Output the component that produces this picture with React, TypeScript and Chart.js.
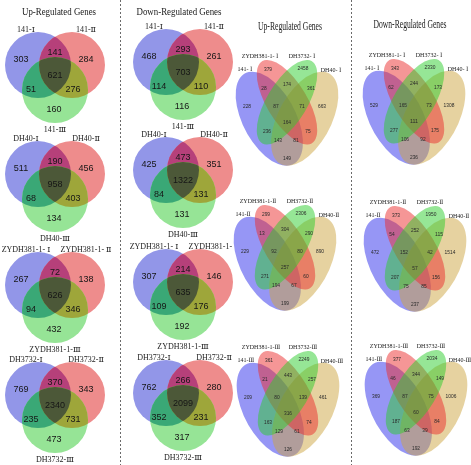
import React, { useEffect, useRef } from "react";
import { Chart, registerables } from "chart.js";

Chart.register(...registerables);

// ================= DATA =================
// Three-way Venn diagrams (left half). Region order:
// A only, B only, C only, A∩B, A∩C, B∩C, A∩B∩C
const upRegulated141 = [303, 284, 160, 141, 51, 276, 621];
const upRegulatedDH40 = [511, 456, 134, 190, 68, 403, 958];
const upRegulatedZYDH381 = [267, 138, 432, 72, 94, 346, 626];
const upRegulatedDH3732 = [769, 343, 473, 370, 235, 731, 2340];

const downRegulated141 = [468, 261, 116, 293, 114, 110, 703];
const downRegulatedDH40 = [425, 351, 131, 473, 84, 131, 1322];
const downRegulatedZYDH381 = [307, 146, 192, 214, 109, 176, 635];
const downRegulatedDH3732 = [762, 280, 317, 266, 352, 231, 2099];

const setLabels141 = ["141-Ⅰ", "141-Ⅱ", "141-Ⅲ"];
const setLabelsDH40 = ["DH40-Ⅰ", "DH40-Ⅱ", "DH40-Ⅲ"];
const setLabelsZYDH381 = ["ZYDH381-1- Ⅰ", "ZYDH381-1- Ⅱ", "ZYDH381-1-Ⅲ"];
const setLabelsDH3732 = ["DH3732-Ⅰ", "DH3732-Ⅱ", "DH3732-Ⅲ"];

// Four-way Venn diagrams (right half). Region order:
// A, B, C, D, AB, BC, CD, ABC, BCD, ABCD, AC, BD, ACD, ABD, AD
// A = 141, B = ZYDH381-1, C = DH3732, D = DH40
const upStageI = [228, 379, 2458, 663, 28, 174, 361, 87, 71, 164, 236, 75, 143, 81, 149];
const downStageI = [529, 343, 2330, 1308, 62, 244, 173, 165, 73, 111, 277, 175, 106, 92, 236];
const upStageII = [229, 299, 2306, 890, 13, 304, 290, 92, 80, 257, 271, 60, 194, 67, 199];
const downStageII = [472, 373, 1950, 1514, 54, 252, 115, 152, 42, 57, 207, 156, 75, 85, 237];
const upStageIII = [209, 361, 2249, 461, 21, 443, 257, 80, 139, 316, 163, 74, 129, 61, 126];
const downStageIII = [369, 377, 2034, 1006, 46, 344, 149, 87, 75, 60, 187, 84, 63, 39, 192];

const stageILabels = ["141- Ⅰ", "ZYDH381-1- Ⅰ", "DH3732- Ⅰ", "DH40- Ⅰ"];
const stageIILabels = ["141-Ⅱ", "ZYDH381-1-Ⅱ", "DH3732-Ⅱ", "DH40-Ⅱ"];
const stageIIILabels = ["141-Ⅲ", "ZYDH381-1-Ⅲ", "DH3732-Ⅲ", "DH40-Ⅲ"];

const titleUp = "Up-Regulated Genes";
const titleDown = "Down-Regulated Genes";

// ================= LAYOUT / STYLE =================
const W = 471;
const H = 465;
const SERIF = "'Liberation Serif', 'DejaVu Serif', 'Times New Roman', serif";
const SANS = "'Liberation Sans', Arial, 'DejaVu Sans', sans-serif";

const three = {
  upX: 55,
  downX: 183,
  upY: [76, 185, 296, 406],
  downY: [73, 181, 293, 404],
  r: 33,
  circles: [
    [-17, -11],
    [17, -11],
    [0, 14],
  ],
  regionSets: [[0], [1], [2], [0, 1], [0, 2], [1, 2], [0, 1, 2]],
  regionColors: [
    "rgb(146,150,232)",
    "rgb(238,140,140)",
    "rgb(150,228,150)",
    "rgb(182,64,122)",
    "rgb(58,168,118)",
    "rgb(158,166,58)",
    "rgb(76,88,56)",
  ],
  regionOffsets: [
    [-34, -16],
    [31, -16],
    [-1, 34],
    [0, -23],
    [-24, 14],
    [18, 14],
    [0, 0],
  ],
  labelOffsets: [
    [-29, -46],
    [31, -46],
    [0, 54],
  ],
};

const four = {
  upCenters: [
    [287, 122],
    [285, 267],
    [288, 413],
  ],
  downCenters: [
    [414, 121],
    [415, 268],
    [416, 412],
  ],
  sx: 118,
  sy: 165,
  ux0: 0.5,
  uy0: 0.45,
  // unit-square ellipses (y up): x, y, a, b, rotation(deg)
  ellipses: [
    { x: 0.35, y: 0.47, a: 0.35, b: 0.2, rot: 135, color: "rgb(45,45,235)" }, // A
    { x: 0.5, y: 0.57, a: 0.33, b: 0.15, rot: 135, color: "rgb(235,45,45)" }, // B
    { x: 0.5, y: 0.57, a: 0.33, b: 0.15, rot: 45, color: "rgb(45,205,45)" }, // C
    { x: 0.65, y: 0.47, a: 0.35, b: 0.2, rot: 45, color: "rgb(205,165,65)" }, // D
  ],
  drawOrder: [0, 3, 1, 2],
  regionOffsets: [
    [-40, -16],
    [-19, -53],
    [16, -54],
    [35, -16],
    [-23, -34],
    [0, -38],
    [24, -34],
    [-11, -16],
    [15, -16],
    [0, 0],
    [-20, 9],
    [21, 9],
    [-9, 18],
    [9, 18],
    [0, 36],
  ],
  labelOffsets: [
    [-42, -53],
    [-27, -66],
    [15, -66],
    [44, -52],
  ],
};

const threeUp = [upRegulated141, upRegulatedDH40, upRegulatedZYDH381, upRegulatedDH3732];
const threeDown = [downRegulated141, downRegulatedDH40, downRegulatedZYDH381, downRegulatedDH3732];
const threeLabels = [setLabels141, setLabelsDH40, setLabelsZYDH381, setLabelsDH3732];
const fourUp = [upStageI, upStageII, upStageIII];
const fourDown = [downStageI, downStageII, downStageIII];
const fourLabels = [stageILabels, stageIILabels, stageIIILabels];

const vennPlugin = {
  id: "vennPlugin",
  afterDatasetsDraw(chart: any) {
    const { ctx } = chart;
    const xs = chart.scales.x;
    const ys = chart.scales.y;
    const X = (v: number) => xs.getPixelForValue(v);
    const Y = (v: number) => ys.getPixelForValue(v);
    const PR = (v: number) => Math.abs(X(v) - X(0));

    ctx.save();
    ctx.textAlign = "center";
    ctx.textBaseline = "middle";

    // ---------- titles ----------
    ctx.fillStyle = "#1a1a1a";
    ctx.font = `11px ${SERIF}`;
    ctx.fillText(titleUp, X(59), Y(12), 74);
    ctx.fillText(titleDown, X(179), Y(12), 85);
    ctx.font = `12px ${SERIF}`;
    ctx.fillText(titleUp, X(290), Y(27), 64);
    ctx.fillText(titleDown, X(410), Y(25), 73);

    // ---------- separators ----------
    ctx.save();
    ctx.strokeStyle = "#6a6a6a";
    ctx.lineWidth = 1;
    ctx.setLineDash([2, 2]);
    [120.5, 351.5].forEach((sx) => {
      ctx.beginPath();
      ctx.moveTo(X(sx), Y(0));
      ctx.lineTo(X(sx), Y(H));
      ctx.stroke();
    });
    ctx.restore();

    // ---------- three-way venns ----------
    ctx.save();
    ctx.beginPath();
    ctx.rect(X(0), Y(0), X(234) - X(0), Y(H) - Y(0));
    ctx.clip();
    const draw3 = (cx: number, cy: number, counts: number[], labels: string[]) => {
      const circ = (i: number) => {
        ctx.beginPath();
        ctx.arc(
          X(cx + three.circles[i][0]),
          Y(cy + three.circles[i][1]),
          PR(three.r),
          0,
          Math.PI * 2
        );
      };
      three.regionSets.forEach((set, k) => {
        ctx.save();
        for (let j = 0; j < set.length - 1; j++) {
          circ(set[j]);
          ctx.clip();
        }
        circ(set[set.length - 1]);
        ctx.fillStyle = three.regionColors[k];
        ctx.fill();
        ctx.restore();
      });
      ctx.fillStyle = "#161616";
      ctx.font = `9px ${SANS}`;
      counts.forEach((v, k) => {
        const o = three.regionOffsets[k];
        ctx.fillText(String(v), X(cx + o[0]), Y(cy + o[1]));
      });
      ctx.fillStyle = "#1a1a1a";
      ctx.font = `8px ${SERIF}`;
      labels.forEach((t, k) => {
        const o = three.labelOffsets[k];
        ctx.fillText(t, X(cx + o[0]), Y(cy + o[1]));
      });
    };
    for (let r = 0; r < 4; r++) {
      draw3(three.upX, three.upY[r], threeUp[r], threeLabels[r]);
      draw3(three.downX, three.downY[r], threeDown[r], threeLabels[r]);
    }
    ctx.restore();

    // ---------- four-way venns ----------
    const draw4 = (cx: number, cy: number, counts: number[], labels: string[]) => {
      ctx.save();
      ctx.globalAlpha = 0.5;
      four.drawOrder.forEach((i) => {
        const e = four.ellipses[i];
        ctx.save();
        ctx.translate(X(cx), Y(cy));
        ctx.scale(PR(four.sx), -PR(four.sy));
        ctx.translate(-four.ux0, -four.uy0);
        ctx.beginPath();
        ctx.ellipse(e.x, e.y, e.a, e.b, (e.rot * Math.PI) / 180, 0, Math.PI * 2);
        ctx.restore();
        ctx.fillStyle = e.color;
        ctx.fill();
      });
      ctx.restore();
      ctx.fillStyle = "#2a2a2a";
      ctx.font = `6px ${SANS}`;
      counts.forEach((v, k) => {
        const o = four.regionOffsets[k];
        const s = String(v);
        ctx.fillText(s, X(cx + o[0]), Y(cy + o[1]), s.length * 2.7);
      });
      ctx.fillStyle = "#222";
      ctx.font = `6px ${SERIF}`;
      labels.forEach((t, k) => {
        const o = four.labelOffsets[k];
        ctx.fillText(t, X(cx + o[0]), Y(cy + o[1]));
      });
    };
    for (let r = 0; r < 3; r++) {
      draw4(four.upCenters[r][0], four.upCenters[r][1], fourUp[r], fourLabels[r]);
      draw4(four.downCenters[r][0], four.downCenters[r][1], fourDown[r], fourLabels[r]);
    }

    ctx.restore();
  },
};

export default function App() {
  const ref = useRef<HTMLCanvasElement | null>(null);
  useEffect(() => {
    if (!ref.current) return;
    const chart = new Chart(ref.current, {
      type: "scatter",
      data: { datasets: [{ data: [], pointRadius: 0 }] },
      options: {
        animation: false,
        responsive: false,
        devicePixelRatio: 1,
        layout: { padding: 0 },
        plugins: { legend: { display: false }, tooltip: { enabled: false } },
        scales: {
          x: { type: "linear", min: 0, max: W, display: false },
          y: { type: "linear", min: 0, max: H, reverse: true, display: false },
        },
      },
      plugins: [vennPlugin],
    } as any);
    return () => chart.destroy();
  }, []);
  return (
    <div
      style={{
        position: "fixed",
        left: 0,
        top: 0,
        width: W,
        height: H,
        background: "#fff",
      }}
    >
      <canvas ref={ref} width={W} height={H} style={{ width: W, height: H, display: "block" }} />
    </div>
  );
}
